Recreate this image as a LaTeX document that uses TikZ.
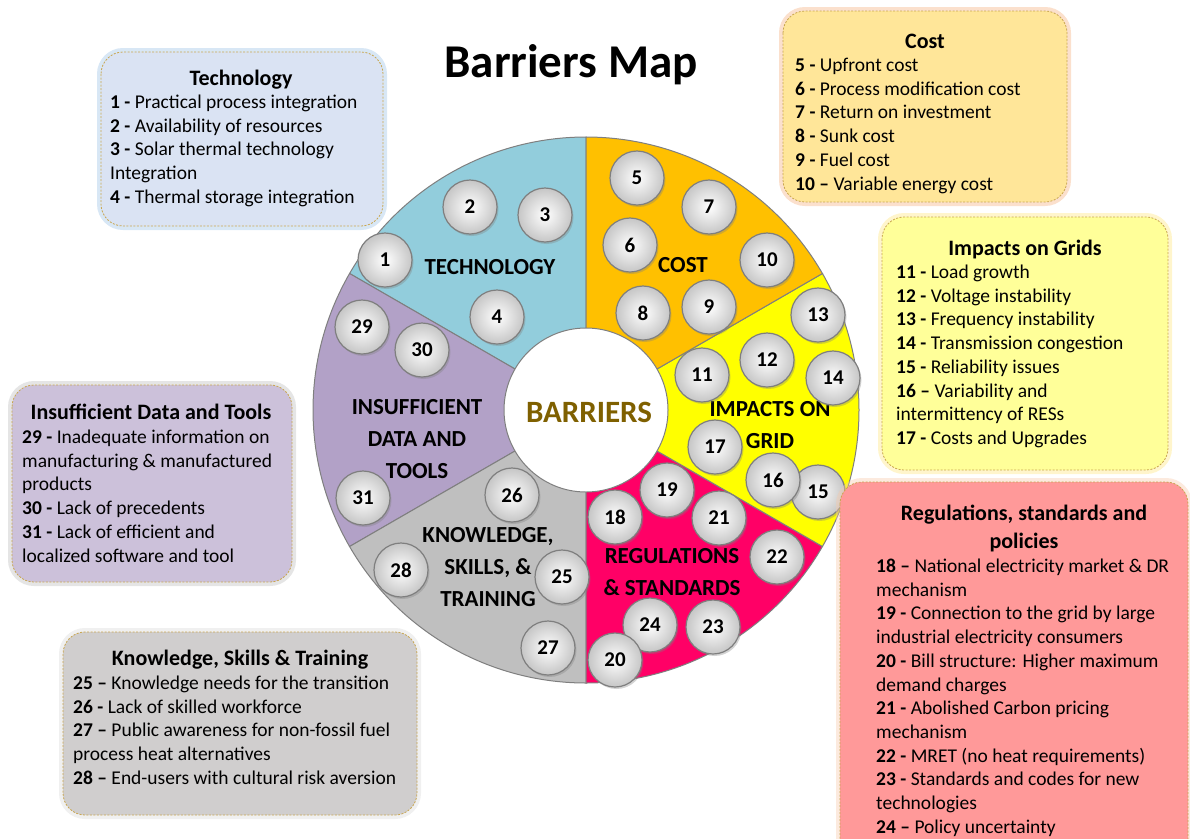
\documentclass[tikz,border=0pt]{standalone}
\usepackage{fontspec}
\setmainfont{Carlito}
\usetikzlibrary{shadows}
\definecolor{techc}{HTML}{92CDDC}
\definecolor{costc}{HTML}{FFC000}
\definecolor{gridc}{HTML}{FFFF00}
\definecolor{regc}{HTML}{FF0066}
\definecolor{knowc}{HTML}{BFBFBF}
\definecolor{datac}{HTML}{B2A1C7}
\definecolor{rimc}{HTML}{7F7F7F}
\definecolor{barc}{HTML}{7F6000}
\definecolor{boxline}{HTML}{C9A650}
\definecolor{techbox}{HTML}{DAE3F3}
\definecolor{techglow}{HTML}{9DC3E6}
\definecolor{costbox}{HTML}{FFE699}
\definecolor{costglow}{HTML}{F4B183}
\definecolor{gridbox}{HTML}{FFFF99}
\definecolor{gridglow}{HTML}{FFE680}
\definecolor{databox}{HTML}{CCC1DA}
\definecolor{dataglow}{HTML}{BFBFBF}
\definecolor{knowbox}{HTML}{D0CECE}
\definecolor{knowglow}{HTML}{D9D9D9}
\definecolor{regbox}{HTML}{FF9999}
\definecolor{regglow}{HTML}{F8CBAD}
\newcommand\mybox[4]{%
  \draw[line width=8pt, draw=#2, opacity=0.4, rounded corners=22pt] #3 rectangle #4;
  \draw[boxframe, fill=#1] #3 rectangle #4;}
\newcommand\boxlines[4]{%
  \foreach \t [count=\i] in {#4} \node[bd] (#1\i) at (#2, {#3+(\i-1)*23.7}) {\t};}
\begin{document}
\begin{tikzpicture}[x=1pt, y=-1pt,
  boxframe/.style={rounded corners=22pt, draw=boxline, dash pattern=on 2pt off 1.5pt, line width=0.8pt},
  bd/.style={font=\fontsize{19.5}{23.7}\selectfont, inner sep=0pt, anchor=base west},
  hd/.style={font=\fontsize{22}{28}\selectfont\bfseries, inner sep=0pt, anchor=base, align=center},
  seclab/.style={font=\fontsize{23}{32}\selectfont\bfseries, inner sep=0pt, align=center},
  bub/.style={circle, minimum size=54pt, inner sep=0pt, draw=rimc, line width=1.2pt,
    shading=radial, inner color=white, outer color=gray!45,
    drop shadow={shadow xshift=1.5pt, shadow yshift=-2pt, opacity=0.35},
    font=\fontsize{21}{23}\selectfont\bfseries},
  sector/.style={draw=rimc, line width=1pt}]
\useasboundingbox (0,0) rectangle (1190,838);
\clip (0,0) rectangle (1190,838);

% ---- wheel ----
\begin{scope}[shift={(586,410)}, x=1pt, y=1pt]
  \filldraw[sector, fill=techc] (0,0) -- (90:273) arc[start angle=90, end angle=150, radius=273] -- cycle;
  \filldraw[sector, fill=datac] (0,0) -- (150:273) arc[start angle=150, end angle=210, radius=273] -- cycle;
  \filldraw[sector, fill=knowc] (0,0) -- (210:273) arc[start angle=210, end angle=270, radius=273] -- cycle;
  \filldraw[sector, fill=regc] (0,0) -- (270:273) arc[start angle=270, end angle=330, radius=273] -- cycle;
  \filldraw[sector, fill=gridc] (0,0) -- (-30:273) arc[start angle=-30, end angle=30, radius=273] -- cycle;
  \filldraw[sector, fill=costc] (0,0) -- (30:273) arc[start angle=30, end angle=90, radius=273] -- cycle;
  \filldraw[sector, fill=white] (0,0) circle[radius=82];
\end{scope}

\node[font=\fontsize{31}{34}\selectfont\bfseries, text=barc, inner sep=0pt, anchor=base] (barriers) at (589,422) {BARRIERS};

\node[seclab] (lTech) at (490,267) {TECHNOLOGY};
\node[seclab] (lCost) at (683,265) {COST};
\node[seclab] (lGrid) at (770,425) {IMPACTS ON\\GRID};
\node[seclab] (lReg) at (672,572) {REGULATIONS\\\& STANDARDS};
\node[seclab] (lKnow) at (488,567) {KNOWLEDGE,\\SKILLS, \&\\TRAINING};
\node[seclab] (lData) at (417,439) {INSUFFICIENT\\DATA AND\\TOOLS};

% ---- bubbles ----
\foreach \n/\x/\y in {1/385/260, 2/470/207, 3/545/215, 4/497/317,
  5/637/178, 7/709/207, 6/630/245, 10/767/260, 8/643/313, 9/709/307,
  13/818/315, 12/767/360, 11/702/375, 14/833/378,
  17/715/447, 15/818/492, 16/773/480,
  19/667/490, 18/615/517, 21/719/518, 22/777/557, 23/713/627, 24/650/625, 20/615/660,
  26/512/495, 28/401/570, 25/562/577, 27/548/648,
  29/362/327, 30/422/350, 31/363/498}
  \node[bub] (b\n) at (\x,\y) {\n};

% ---- title ----
\node[font=\fontsize{47}{50}\selectfont\bfseries, inner sep=0pt, anchor=base] (title) at (571,77) {Barriers Map};

% ---- boxes ----
\mybox{techbox}{techglow}{(101,52)}{(383,226)}
\node[hd] (hTech) at (241,85) {Technology};
\boxlines{tt}{110}{108.5}{{\textbf{1 -} Practical process integration},{\textbf{2 -} Availability of resources},{\textbf{3 -} Solar thermal technology},{Integration},{\textbf{4 -} Thermal storage integration}}

\mybox{costbox}{costglow}{(783,11)}{(1067,202)}
\node[hd] (hCost) at (925,48) {Cost};
\boxlines{tc}{795}{71.5}{{\textbf{5 -} Upfront cost},{\textbf{6 -} Process modification cost},{\textbf{7 -} Return on investment},{\textbf{8 -} Sunk cost},{\textbf{9 -} Fuel cost},{\textbf{10 –} Variable energy cost}}

\mybox{gridbox}{gridglow}{(882,217)}{(1168,470)}
\node[hd] (hGrid) at (1025,255) {Impacts on Grids};
\boxlines{tg}{896}{278.5}{{\textbf{11 -} Load growth},{\textbf{12 -} Voltage instability},{\textbf{13 -} Frequency instability},{\textbf{14 -} Transmission congestion},{\textbf{15 -} Reliability issues},{\textbf{16 –} Variability and},{intermittency of RESs},{\textbf{17 -} Costs and Upgrades}}

\mybox{databox}{dataglow}{(12,385)}{(292,582)}
\node[hd] (hData) at (151,419.5) {Insufficient Data and Tools};
\boxlines{td}{22}{443.5}{{\textbf{29 -} Inadequate information on},{manufacturing \& manufactured},{products},{\textbf{30 -} Lack of precedents},{\textbf{31 -} Lack of efficient and},{localized software and tool}}

\mybox{knowbox}{knowglow}{(63,632)}{(417,815)}
\node[hd] (hKnow) at (240,665.5) {Knowledge, Skills \& Training};
\boxlines{tk}{73}{689.5}{{\textbf{25 –} Knowledge needs for the transition},{\textbf{26 -} Lack of skilled workforce},{\textbf{27 –} Public awareness for non-fossil fuel},{process heat alternatives},{\textbf{28 –} End-users with cultural risk aversion}}

\mybox{regbox}{regglow}{(840,482)}{(1188,880)}
\node[hd] (hReg) at (1024,548.5) {Regulations, standards and\\policies};
\boxlines{tr}{876}{572.5}{{\textbf{18 –} National electricity market \& DR},{mechanism},{\textbf{19 -} Connection to the grid by large},{industrial electricity consumers},{\textbf{20 -} Bill structure: Higher maximum},{demand charges},{\textbf{21 -} Abolished Carbon pricing},{mechanism},{\textbf{22 -} MRET (no heat requirements)},{\textbf{23 -} Standards and codes for new},{technologies},{\textbf{24 –} Policy uncertainty}}
\end{tikzpicture}
\end{document}
